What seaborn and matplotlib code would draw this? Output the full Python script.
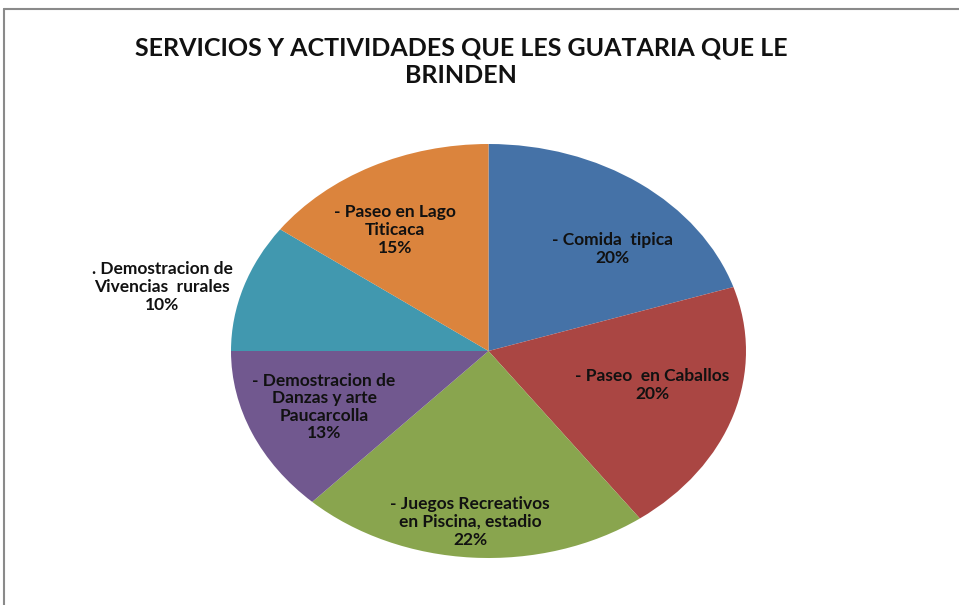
import matplotlib
matplotlib.use("Agg")
import matplotlib.pyplot as plt
import seaborn as sns
from matplotlib.lines import Line2D

# ---- data ----
categories = [
    "- Comida  tipica",
    "- Paseo  en Caballos",
    "- Juegos Recreativos\nen Piscina, estadio",
    "- Demostracion de\nDanzas y arte\nPaucarcolla",
    ". Demostracion de\nVivencias  rurales",
    "- Paseo en Lago\nTiticaca",
]
percentages = [20, 20, 22, 13, 10, 15]
colors = ["#4572A7", "#AA4643", "#89A54E", "#71588F", "#4198AF", "#DB843D"]
title_text = "SERVICIOS Y ACTIVIDADES QUE LES GUATARIA QUE LE\nBRINDEN"

# ---- layout (pixel centres of each label block) ----
label_px = [(612, 249), (652, 385), (470, 522), (324, 407), (162, 287), (395, 230)]

W, H = 959, 605
sns.set_theme(style="white")
plt.rcParams['font.family'] = ['Lato', 'DejaVu Sans']

fig = plt.figure(figsize=(W / 100, H / 100), dpi=100)
fig.patch.set_facecolor("white")

# pie axes (elliptical)
left, right, top, bottom = 231, 746, 144, 558
ax = fig.add_axes([left / W, 1 - bottom / H, (right - left) / W, (bottom - top) / H])
palette = sns.color_palette(colors)
ax.pie(percentages, colors=palette, startangle=90, counterclock=False,
       radius=1, wedgeprops=dict(linewidth=0))
ax.set_aspect("auto")
ax.set_xlim(-1, 1)
ax.set_ylim(-1, 1)
ax.axis("off")

# labels
for cat, pct, (px, py) in zip(categories, percentages, label_px):
    fig.text(px / W, 1 - py / H, f"{cat}\n{pct}%", ha="center", va="center",
             multialignment="center", fontsize=12.5, fontweight="bold",
             color="#111111", linespacing=1.12)

# title
fig.text(461 / W, 1 - 62 / H, title_text, ha="center", va="center",
         multialignment="center", fontsize=18, fontweight="bold",
         color="#111111", linespacing=1.22)

# chart frame (top and left edges visible)
fig.add_artist(Line2D([4 / W, 4 / W], [0, 1 - 9 / H], transform=fig.transFigure,
                      color="#8a8a8a", linewidth=1.5))
fig.add_artist(Line2D([4 / W, 1], [1 - 9 / H, 1 - 9 / H], transform=fig.transFigure,
                      color="#8a8a8a", linewidth=1.5))

fig.savefig("out.png", dpi=100, facecolor="white")
